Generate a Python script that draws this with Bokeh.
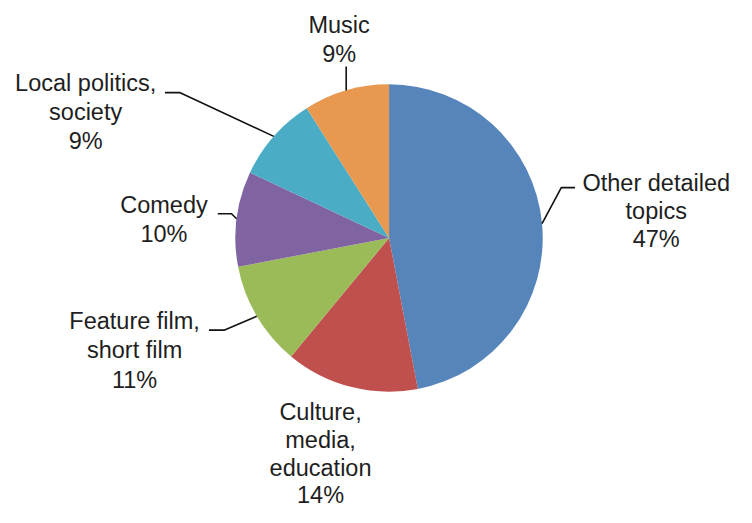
import math
from bokeh.plotting import figure
from bokeh.models import Range1d
from bokeh.core.properties import value
from bokeh.embed import file_html
from bokeh.resources import INLINE

# ---- data ----
categories = ["Other detailed topics", "Culture, media, education", "Feature film, short film",
              "Comedy", "Local politics, society", "Music"]
label_lines = [["Other detailed", "topics"], ["Culture,", "media,", "education"],
               ["Feature film,", "short film"], ["Comedy"], ["Local politics,", "society"], ["Music"]]
shares = [47, 14, 11, 10, 9, 9]
colors = ["#5585BA", "#C0504D", "#9BBB59", "#8064A2", "#4BACC6", "#E9994F"]

# ---- layout (reference pixel space 752 x 523, mapped onto the figure) ----
REF_W, REF_H = 752, 523
W, H = 736, 507
SX, SY = W / REF_W, H / REF_H
def Y(py):
    return REF_H - py

CX, CY, R = 397, 245, 157
R_Y = R * SX / SY  # radius expressed in y data units
label_x = [670, 327, 137, 167, 87, 346]
label_y0 = [195, 432, 338, 218, 92, 32]
label_gap = [29.0, 28.4, 30.0, 30.0, 30.0, 30.0]
TEXT_SHIFT = -7  # renderer baseline correction
FONT_PX = 24 * SX
# leader polylines (start, elbow) -> ends at slice mid-angle on the rim; None = no leader
leaders = [[(587, 193), (573, 193)], None, [(213, 340), (229, 340)],
           [(222, 220), (236, 220)], [(168, 95), (183, 95)], ["vertical", 68]]

p = figure(width=W, height=H, x_range=Range1d(0, REF_W), y_range=Range1d(0, REF_H),
           x_axis_type=None, y_axis_type=None, toolbar_location=None, output_backend="svg",
           min_border=0, outline_line_color=None)
p.grid.visible = False

total = float(sum(shares))
starts, ends, mids = [], [], []
cum = 0.0
for s in shares:
    a0 = math.pi / 2 - cum / total * 2 * math.pi
    cum += s
    a1 = math.pi / 2 - cum / total * 2 * math.pi
    starts.append(a0)
    ends.append(a1)
    mids.append((a0 + a1) / 2)

p.wedge(x=[CX] * len(shares), y=[Y(CY)] * len(shares), radius=R,
        start_angle=starts, end_angle=ends, direction="clock",
        fill_color=colors, line_color=None)

# leader lines
lxs, lys = [], []
for i, ld in enumerate(leaders):
    if ld is None:
        continue
    ex = CX + R * math.cos(mids[i])
    ey_data = Y(CY) + R_Y * math.sin(mids[i])
    if ld[0] == "vertical":
        xs = [ex, ex]
        ys = [Y(ld[1]), ey_data]
    else:
        xs = [pt[0] for pt in ld] + [ex]
        ys = [Y(pt[1]) for pt in ld] + [ey_data]
    lxs.append(xs)
    lys.append(ys)
p.multi_line(xs=lxs, ys=lys, line_color="#111111", line_width=1.6)

# labels
tx, ty, tt = [], [], []
for i, lines in enumerate(label_lines):
    all_lines = lines + [f"{shares[i]}%"]
    for j, ln in enumerate(all_lines):
        tx.append(label_x[i])
        ty.append(Y(label_y0[i] + TEXT_SHIFT + j * label_gap[i]))
        tt.append(ln)
p.text(x=tx, y=ty, text=tt, text_font=value("Liberation Sans"), text_font_size=f"{FONT_PX:.1f}px",
       text_align="center", text_baseline="alphabetic", text_color="#1e1e1e")

open("out.html", "w").write(file_html(p, INLINE))
